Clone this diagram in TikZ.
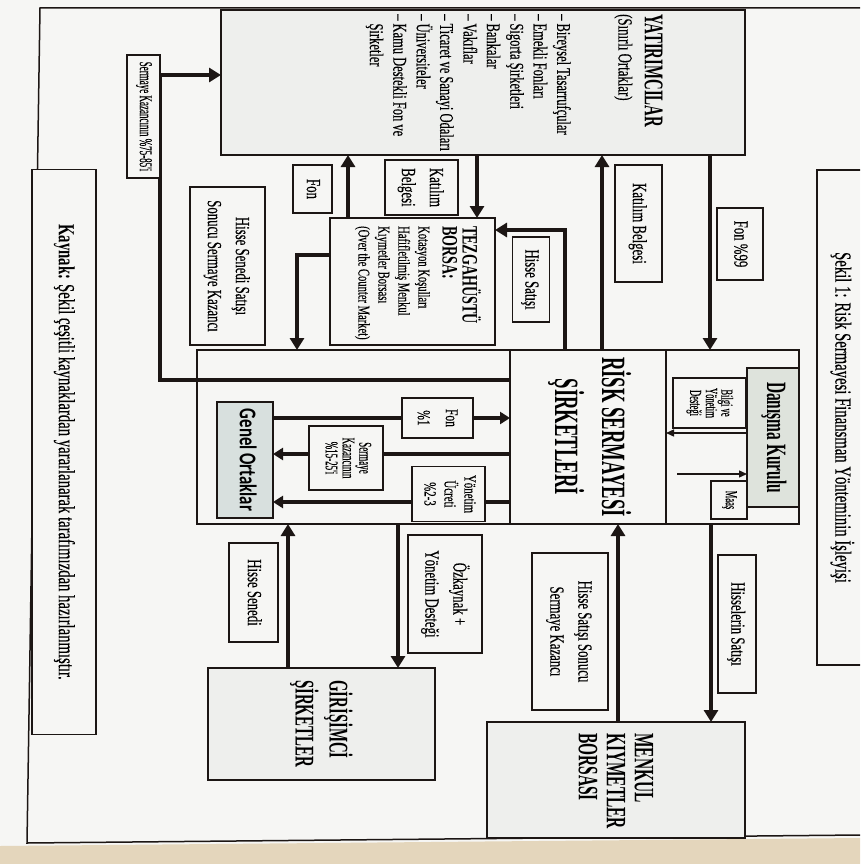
\documentclass[tikz,border=0pt]{standalone}
\usepackage{fontspec}
\setmainfont{Liberation Serif}[FakeStretch=0.64, UprightFeatures={FakeBold=0.3}]
\newfontfamily\headfont{Liberation Serif}[FakeStretch=0.55]
\newfontfamily\narrowfont{Liberation Serif}[FakeStretch=0.5, FakeBold=0.3]
\newfontfamily\genelfont{Carlito}[FakeStretch=0.7]
\usepackage{graphicx}
\usetikzlibrary{arrows.meta}

\definecolor{ink}{RGB}{28,22,20}
\definecolor{paper}{RGB}{246,246,244}
\definecolor{speck}{RGB}{238,239,237}
\definecolor{shade}{RGB}{222,227,220}
\definecolor{shadeb}{RGB}{216,224,222}
\definecolor{photo}{RGB}{228,214,188}

\newcommand{\rt}[1]{\rotatebox{-90}{\begin{tabular}{@{}c@{}}#1\end{tabular}}}

\tikzset{
  box/.style={draw=ink, line width=1.8pt, inner sep=0pt, outer sep=0pt, fill=paper},
  lbl/.style={box, font=\fontsize{20}{28}\selectfont},
  sz/.style 2 args={minimum width=#1pt, minimum height=#2pt},
  fatarrow/.style={draw=ink, line width=4.5pt, -{Triangle[length=12pt,width=14pt]}},
  midarrow/.style={draw=ink, line width=3.5pt, -{Triangle[length=10pt,width=12pt]}},
  finearrow/.style={draw=ink, line width=1.4pt, -{Triangle[length=8pt,width=7pt]}},
  sidetext/.style={rotate=-90, inner sep=0pt, align=left}
}

\begin{document}
\begin{tikzpicture}[x=1pt,y=-1pt]
\tikzstyle{every node}+=[inner sep=0pt]
\useasboundingbox (0,0) rectangle (860,864);
\clip (0,0) rectangle (860,864);
\fill[paper] (0,0) rectangle (860,864);
\fill[photo] (0,846) -- (860,838) -- (860,864) -- (0,864) -- cycle;
\draw[ink, line width=1.5pt] (860,8) -- (40,8) -- (27,843) -- (860,835);

\node[box, sz={48}{495}, font=\fontsize{23}{26}\selectfont] (title) at (841,417.5) {\rt{Şekil 1: Risk Sermayesi Finansman Yönteminin İşleyişi}};
\node[box, sz={64}{565}, font=\fontsize{23}{26}\selectfont] (kaynak) at (64,452) {\rt{\textbf{Kaynak:} Şekil çeşitli kaynaklardan yararlanarak tarafımızdan hazırlanmıştır.}};

\node[box, fill=speck, sz={524}{145}] (yat) at (483,82.5) {};
\node[sidetext, anchor=north west, font=\fontsize{19.5}{23.4}\selectfont] (yattxt) at (663,14)
  {{\headfont\bfseries\fontsize{27}{27}\selectfont YATIRIMCILAR}\\[3pt]
   {\fontsize{20}{23}\selectfont (Sınırlı Ortaklar)}\\[38pt]
   – Bireysel Tasarrufçular\\
   – Emekli Fonları\\
   – Sigorta Şirketleri\\
   – Bankalar\\
   – Vakıflar\\
   – Ticaret ve Sanayi Odaları\\
   – Üniversiteler\\
   – Kamu Destekli Fon ve\\
   \phantom{– }Şirketler};

\node[box, sz={165}{127}] (tezgah) at (412.5,281.5) {};
\node[sidetext, anchor=north west, font=\fontsize{16.5}{20}\selectfont] (tztxt) at (481,226)
  {{\bfseries\fontsize{22}{22}\selectfont TEZGAHÜSTÜ}\\
   {\bfseries\fontsize{22}{22}\selectfont BORSA:}\\[4pt]
   Kotasyon Koşulları\\
   Hafifletilmiş Menkul\\
   Kıymetler Borsası\\
   (Over the Counter Market)};

\node[box, sz={602}{174}] (risk) at (498,437) {};
\node[box, sz={156}{174}, font=\headfont\bfseries\fontsize{34}{47}\selectfont] (riskin) at (588,437) {\rt{RİSK SERMAYESİ\\ŞİRKETLERİ}};
\node[box, fill=shadeb, sz={56}{116}, font=\genelfont\bfseries\fontsize{24}{26}\selectfont] (genel) at (245,460) {\rt{Genel Ortaklar}};
\node[box, fill=shade, sz={52}{139}, font=\headfont\bfseries\fontsize{28}{30}\selectfont] (danisma) at (773,437.5) {\rt{Danışma Kurulu}};
\node[box, sz={73}{50}, font=\narrowfont\fontsize{17}{14}\selectfont] (bilgi) at (709.5,403) {\rt{Bilgi ve\\Yönetim\\Desteği}};
\node[box, sz={36}{38}, font=\narrowfont\fontsize{17}{16}\selectfont] (maas) at (729,500) {\rt{Maaş}};

\node[box, fill=speck, sz={258}{116}] (menkul) at (616,780) {};
\node[sidetext, anchor=west, font=\headfont\bfseries\fontsize{28}{28}\selectfont] (mktxt) at ([yshift=-11pt]menkul.north) {MENKUL\\KIYMETLER\\BORSASI};
\node[box, fill=speck, sz={227}{112}] (giri) at (321.5,724) {};
\node[sidetext, anchor=west, font=\headfont\bfseries\fontsize{27}{34}\selectfont] (gitxt) at ([yshift=-12pt]giri.north) {GİRİŞİMCİ\\ŞİRKETLER};

\coordinate (lfon) at (710,0);
\coordinate (lkat) at (602,0);
\coordinate (hturn) at (565,230);
\coordinate (ltz) at (477,0);
\coordinate (lbk) at (348,0);
\coordinate (tturn) at (297,255);
\coordinate (skturn) at (160,380);
\coordinate (sktop) at (160,75);
\coordinate (yfon) at (0,418);
\coordinate (yskz) at (0,454);
\coordinate (yyon) at (0,502);
\coordinate (ybil) at (0,433);
\coordinate (maasstart) at (677,474);
\coordinate (lmk) at (711,0);
\coordinate (lmkb) at (618,0);
\coordinate (loz) at (398,0);
\coordinate (lhs) at (288,0);

\draw[fatarrow] (yat.south -| lfon) -- (risk.north -| lfon);
\draw[fatarrow] (risk.north -| lkat) -- (yat.south -| lkat);
\draw[fatarrow] (risk.north -| hturn) -- (hturn) -- (tezgah.east |- hturn);
\draw[fatarrow] (yat.south -| ltz) -- (tezgah.north -| ltz);
\draw[fatarrow] (tezgah.north -| lbk) -- (yat.south -| lbk);
\draw[fatarrow] (tezgah.west |- tturn) -- (tturn) -- (risk.north -| tturn);
\draw[fatarrow] (riskin.west |- skturn) -- (skturn) -- (sktop) -- (yat.west |- sktop);
\draw[midarrow] (genel.east |- yfon) -- (riskin.west |- yfon);
\draw[midarrow] (riskin.west |- yskz) -- (genel.east |- yskz);
\draw[midarrow] (riskin.west |- yyon) -- (genel.east |- yyon);
\draw[finearrow] (danisma.west |- ybil) -- (riskin.east |- ybil);
\draw[finearrow] (maasstart) -- (danisma.west |- maasstart);
\draw[fatarrow] (risk.south -| lmk) -- (menkul.north -| lmk);
\draw[fatarrow] (menkul.north -| lmkb) -- (risk.south -| lmkb);
\draw[fatarrow] (risk.south -| loz) -- (giri.north -| loz);
\draw[fatarrow] (giri.north -| lhs) -- (risk.south -| lhs);

\node[lbl, sz={46}{72}] (fon99) at (740,244) {\rt{Fon \%99}};
\node[lbl, sz={47}{117}] (katilim) at (638.5,223.5) {\rt{Katılım Belgesi}};
\node[lbl, sz={37}{85}] (hisse) at (531,279.5) {\rt{Hisse Satışı}};
\node[lbl, sz={73}{55}] (katilimb) at (421.5,187.5) {\rt{Katılım\\Belgesi}};
\node[lbl, sz={39}{48}] (fon) at (312.5,189) {\rt{Fon}};
\node[lbl, sz={75}{158}] (hsss) at (227.5,266) {\rt{Hisse Senedi Satışı\\Sonucu Sermaye Kazancı}};
\node[box, sz={33}{123}, font=\narrowfont\fontsize{18}{18}\selectfont] (skyz) at (143.5,116.5) {\rt{Sermaye Kazancının \%75-85'i}};
\node[box, sz={71}{40}, font=\fontsize{18}{28}\selectfont] (fon1) at (437.5,418) {\rt{Fon\\\%1}};
\node[box, sz={74}{64}, font=\narrowfont\fontsize{18}{16.5}\selectfont] (skz) at (346,458) {\rt{Sermaye\\Kazancının\\\%15-25'i}};
\node[box, sz={73}{55}, font=\fontsize{17}{20}\selectfont] (yon) at (448.5,494) {\rt{Yönetim\\Ücreti\\\%2-3}};
\node[lbl, sz={38}{138}] (hisselerin) at (737,624) {\rt{Hisselerin Satışı}};
\node[lbl, sz={76}{157}] (hssk) at (570,631.5) {\rt{Hisse Satışı Sonucu\\Sermaye Kazancı}};
\node[lbl, sz={74}{118}] (ozk) at (445,594) {\rt{Özkaynak +\\Yönetim Desteği}};
\node[lbl, sz={49}{99}] (hsened) at (253.5,592.5) {\rt{Hisse Senedi}};
\end{tikzpicture}
\end{document}
